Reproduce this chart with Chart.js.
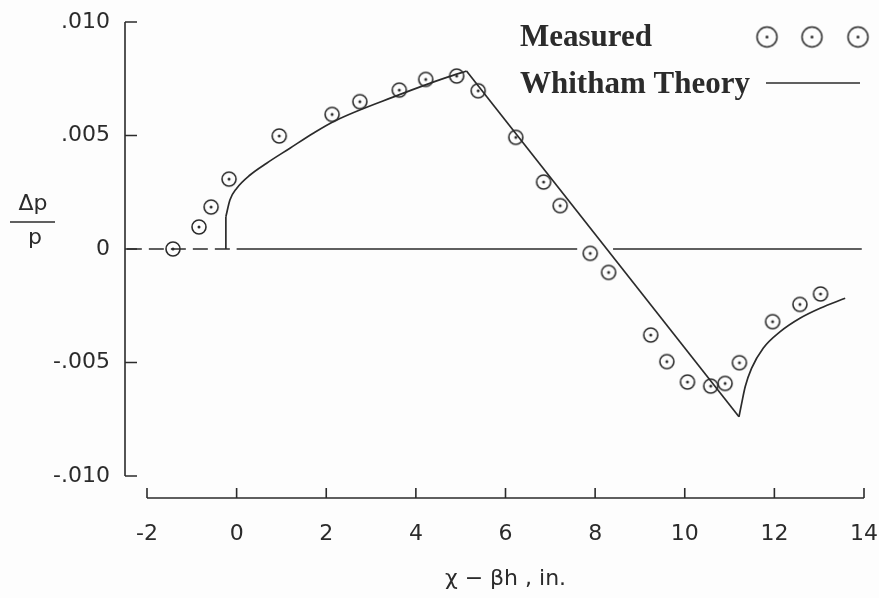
<!DOCTYPE html>
<html>
<head>
<meta charset="utf-8">
<title>Δp/p vs χ − βh</title>
<script src="https://cdn.jsdelivr.net/npm/chart.js@4.4.1/dist/chart.umd.min.js"></script>
<style>
  html, body { margin: 0; background: #fdfdfd; }
  canvas { display: block; }
</style>
</head>
<body>
<canvas id="pressure-chart" width="879" height="598"></canvas>
<script>
// measured pressure signature, x - beta*h in inches, dp/p
const measuredX = [-1.42, -0.84, -0.57, -0.17, 0.95, 2.13, 2.75, 3.63, 4.22, 4.91, 5.39, 6.23, 6.85,
                   7.22, 7.89, 8.30, 9.24, 9.60, 10.06, 10.58, 10.90, 11.22, 11.96, 12.57, 13.03];
const measuredY = [0, 0.00097, 0.00185, 0.00308, 0.00498, 0.00593, 0.00649, 0.0070, 0.00747, 0.00762,
                   0.00697, 0.00492, 0.00295, 0.00191, -0.00019, -0.00103, -0.00379, -0.00496,
                   -0.00586, -0.00604, -0.00592, -0.00501, -0.0032, -0.00244, -0.00198];

// Whitham theory curve
const theoryX = [-0.24, -0.24, -0.15, 0.0, 0.30, 0.67, 1.19, 1.71, 2.2, 3.65, 4.2, 4.69, 5.13,
                 11.21, 11.27, 11.35, 11.49, 11.75, 12.13, 12.57, 13.02, 13.58];
const theoryY = [0, 0.00142, 0.00216, 0.00267, 0.00326, 0.00378, 0.00444, 0.0051, 0.00565, 0.00681,
                 0.00722, 0.00756, 0.00784, -0.00739, -0.0068, -0.00606, -0.00526, -0.00437,
                 -0.00364, -0.00305, -0.00261, -0.00217];
// index ranges of the theory curve: [from, to, smoothed]
const theoryPieces = [[0, 1, false], [1, 12, true], [12, 13, false], [13, 21, true]];

// zero reference line: dashed ahead of the shock, solid behind it (null = break)
const zeroAheadX = [-2.45, 0.0];
const zeroBehindX = [0.0, 7.6, 8.0, 8.4, 13.95];
const zeroBehindY = [0, 0, null, 0, 0];

const xTicks = [-2, 0, 2, 4, 6, 8, 10, 12, 14];
const xTickLabels = ['-2', '0', '2', '4', '6', '8', '10', '12', '14'];
const yTicks = [0.010, 0.005, 0, -0.005, -0.010];
const yTickLabels = ['.010', '.005', '0', '-.005', '-.010'];

const ink = '#2b2b2b';
const letterFont = 'DejaVu Sans';

const toPoints = (xs, ys) => xs.map((x, i) => ({ x: x, y: ys[i] }));

// open circle with a dot in the middle
function ringDot(r, lw) {
  const size = Math.ceil(2 * r + 2 * lw + 2);
  const c = document.createElement('canvas');
  c.width = c.height = size;
  const g = c.getContext('2d');
  g.strokeStyle = ink;
  g.lineWidth = lw;
  g.beginPath();
  g.arc(size / 2, size / 2, r, 0, Math.PI * 2);
  g.stroke();
  g.fillStyle = ink;
  g.beginPath();
  g.arc(size / 2, size / 2, 1.5, 0, Math.PI * 2);
  g.fill();
  return c;
}
const pointMark = ringDot(7, 1.6);
const legendMark = ringDot(10, 1.5);

// detached axes with inward ticks
const offsetAxes = {
  id: 'offsetAxes',
  afterDraw(chart) {
    const { ctx, chartArea, scales } = chart;
    const ax = chartArea.left - 22;
    const ay = chartArea.bottom + 22;
    ctx.save();
    ctx.strokeStyle = ink;
    ctx.lineWidth = 1.6;
    ctx.beginPath();
    ctx.moveTo(ax, scales.y.getPixelForValue(yTicks[0]));
    ctx.lineTo(ax, scales.y.getPixelForValue(yTicks[yTicks.length - 1]));
    yTicks.forEach(v => {
      const py = scales.y.getPixelForValue(v);
      ctx.moveTo(ax, py);
      ctx.lineTo(ax + 12, py);
    });
    ctx.moveTo(scales.x.getPixelForValue(xTicks[0]), ay);
    ctx.lineTo(scales.x.getPixelForValue(xTicks[xTicks.length - 1]), ay);
    xTicks.forEach(v => {
      const px = scales.x.getPixelForValue(v);
      ctx.moveTo(px, ay);
      ctx.lineTo(px, ay - 10);
    });
    ctx.stroke();

    // dp/p written as a fraction
    ctx.fillStyle = ink;
    ctx.font = '22px "' + letterFont + '"';
    ctx.textAlign = 'center';
    ctx.textBaseline = 'middle';
    ctx.fillText('Δp', 33, 204);
    ctx.fillText('p', 35, 238);
    ctx.beginPath();
    ctx.moveTo(10, 222);
    ctx.lineTo(55, 222);
    ctx.lineWidth = 1.5;
    ctx.stroke();
    ctx.restore();
  }
};

// legend: label first, marks after it
const sideLegend = {
  id: 'sideLegend',
  afterDraw(chart) {
    const ctx = chart.ctx;
    ctx.save();
    ctx.fillStyle = ink;
    ctx.font = 'bold 31px "Liberation Serif"';
    ctx.textAlign = 'left';
    ctx.textBaseline = 'alphabetic';
    ctx.fillText('Measured', 520, 46);
    ctx.fillText('Whitham Theory', 520, 93);
    [767, 812, 858].forEach(cx => {
      ctx.drawImage(legendMark, cx - legendMark.width / 2, 37 - legendMark.height / 2);
    });
    ctx.strokeStyle = ink;
    ctx.lineWidth = 1.6;
    ctx.beginPath();
    ctx.moveTo(766, 83);
    ctx.lineTo(860, 83);
    ctx.stroke();
    ctx.restore();
  }
};

const theoryPts = toPoints(theoryX, theoryY);
const theorySets = theoryPieces.map(([from, to, smooth]) => ({
  label: 'Whitham Theory',
  data: theoryPts.slice(from, to + 1),
  showLine: true,
  borderColor: ink,
  borderWidth: 1.7,
  pointRadius: 0,
  cubicInterpolationMode: smooth ? 'monotone' : 'default',
  tension: 0
}));

new Chart(document.getElementById('pressure-chart'), {
  type: 'scatter',
  data: {
    datasets: [
      {
        label: 'Measured',
        data: toPoints(measuredX, measuredY),
        pointStyle: pointMark,
        pointRadius: 7,
        showLine: false
      },
      ...theorySets,
      {
        label: 'zero ahead',
        data: zeroAheadX.map(x => ({ x: x, y: 0 })),
        showLine: true,
        borderColor: ink,
        borderWidth: 1.6,
        borderDash: [15, 7],
        pointRadius: 0,
        clip: false
      },
      {
        label: 'zero behind',
        data: toPoints(zeroBehindX, zeroBehindY),
        showLine: true,
        spanGaps: false,
        borderColor: ink,
        borderWidth: 1.6,
        pointRadius: 0,
        clip: false
      }
    ]
  },
  options: {
    responsive: false,
    animation: false,
    layout: { padding: { top: 22, right: 15, left: 0, bottom: 0 } },
    plugins: {
      legend: { display: false },
      tooltip: { enabled: false }
    },
    scales: {
      x: {
        type: 'linear',
        min: -2,
        max: 14,
        afterBuildTicks: s => { s.ticks = xTicks.map(v => ({ value: v })); },
        afterFit: s => { s.height = 122; s.paddingLeft = 0; s.paddingRight = 0; },
        grid: { display: false, drawTicks: false },
        border: { display: false },
        ticks: {
          autoSkip: false,
          maxRotation: 0,
          padding: 45,
          color: ink,
          font: { family: letterFont, size: 22 },
          callback: (v, i) => xTickLabels[i]
        },
        title: {
          display: true,
          text: 'χ − βh , in.',
          color: ink,
          font: { family: letterFont, size: 22 },
          padding: { top: 0, bottom: 6 }
        }
      },
      y: {
        min: -0.01,
        max: 0.01,
        afterBuildTicks: s => { s.ticks = yTicks.map(v => ({ value: v })); },
        afterFit: s => { s.width = 147; s.paddingTop = 0; s.paddingBottom = 0; },
        grid: { display: false, drawTicks: false },
        border: { display: false },
        ticks: {
          padding: 37,
          color: ink,
          font: { family: letterFont, size: 22 },
          callback: (v, i) => yTickLabels[i]
        }
      }
    }
  },
  plugins: [offsetAxes, sideLegend]
});
</script>
</body>
</html>
